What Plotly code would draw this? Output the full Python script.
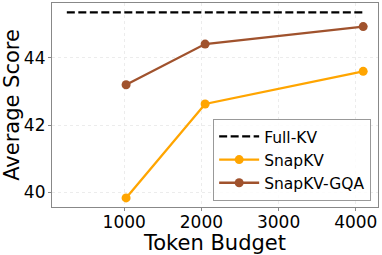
import plotly.graph_objects as go

budgets = [1024, 2048, 4096]
snapkv = [39.84, 42.63, 43.60]
snapkv_gqa = [43.20, 44.41, 44.93]
fullkv_x = [256, 4096]
fullkv_y = [45.35, 45.35]

fig = go.Figure()
fig.add_trace(go.Scatter(x=fullkv_x, y=fullkv_y, mode="lines", name="Full-KV",
                         line=dict(color="black", width=2.3, dash="8px,3.5px")))
fig.add_trace(go.Scatter(x=budgets, y=snapkv, mode="lines+markers", name="SnapKV",
                         line=dict(color="#FFA500", width=2.3), marker=dict(size=9, color="#FFA500")))
fig.add_trace(go.Scatter(x=budgets, y=snapkv_gqa, mode="lines+markers", name="SnapKV-GQA",
                         line=dict(color="#A0522D", width=2.3), marker=dict(size=9, color="#A0522D")))

font = "DejaVu Sans"
fig.update_layout(
    width=382, height=255,
    margin=dict(l=52, r=4, t=3, b=48),
    plot_bgcolor="white", paper_bgcolor="white",
    font=dict(family=font, color="black"),
    showlegend=True,
    legend=dict(x=0.979, y=0.03, xanchor="right", yanchor="bottom",
                bordercolor="#999999", borderwidth=1, bgcolor="rgba(255,255,255,0.85)",
                font=dict(size=15.5, family=font), tracegroupgap=0, itemwidth=40),
)
axis_common = dict(tickfont=dict(size=17), showgrid=True, gridcolor="#ececec", gridwidth=1,
                   griddash="dot", showline=True, linecolor="#888888", linewidth=1.2,
                   mirror=True, zeroline=False, ticks="outside", ticklen=3,
                   tickcolor="#888888", automargin=False)
fig.update_xaxes(range=[64, 4288], tickvals=[1000, 2000, 3000, 4000], ticklabelstandoff=-4,
                 title=dict(text="Token Budget", font=dict(size=21), standoff=0), **axis_common)
fig.update_yaxes(range=[39.57, 45.63], tickvals=[40, 42, 44], ticklabelstandoff=-1,
                 title=dict(text="Average Score", font=dict(size=21), standoff=2), **axis_common)
fig.write_html("out.html", post_script="document.body.style.margin='0';",
               config={"displayModeBar": False})
